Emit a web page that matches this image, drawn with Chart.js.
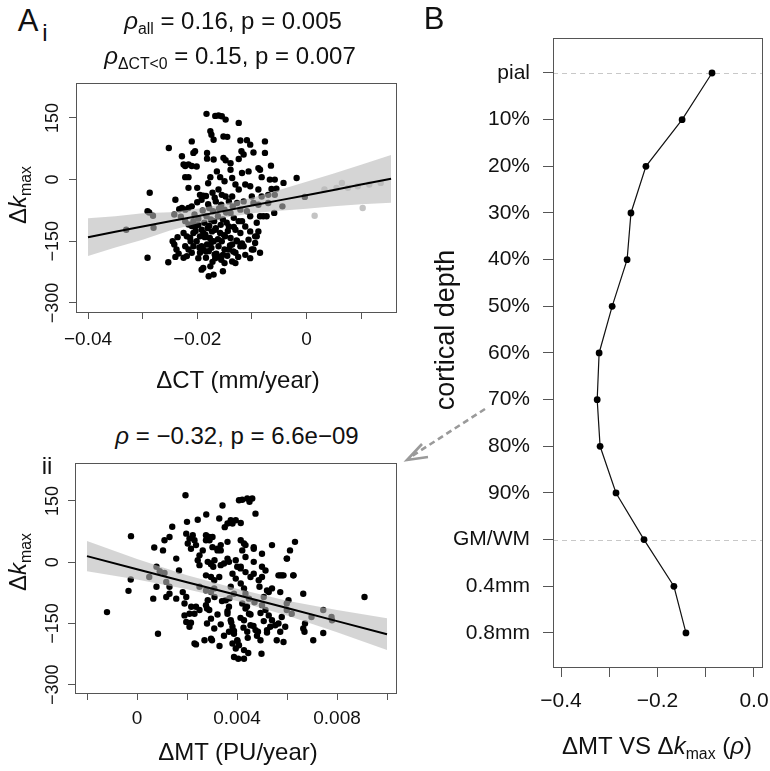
<!DOCTYPE html>
<html>
<head>
<meta charset="utf-8">
<script src="https://cdn.jsdelivr.net/npm/chart.js@4.4.0/dist/chart.umd.min.js"></script>
<style>
html, body { margin: 0; padding: 0; background: #fff; }
#fig { position: relative; width: 770px; height: 771px; overflow: hidden; font-family: "Liberation Sans", Arial, sans-serif; color: #111; }
#fig canvas { position: absolute; }
.t { position: absolute; white-space: nowrap; line-height: 1; transform: translate(-50%, -50%); }
.rot { transform: translate(-50%, -50%) rotate(-90deg); }
.sub { font-size: 0.66em; position: relative; top: 0.3em; }
svg { position: absolute; left: 0; top: 0; }
</style>
</head>
<body>
<div id="fig">
  <canvas id="ct" width="400" height="330" style="left:0;top:70px"></canvas>
  <canvas id="mt" width="400" height="321" style="left:0;top:450px"></canvas>
  <canvas id="depth" width="400" height="771" style="left:400px;top:0"></canvas>

  <div class="t" style="left:28px;top:20px;font-size:31px">A</div>
  <div class="t" style="left:45px;top:33px;font-size:24px">i</div>
  <div class="t" style="left:47px;top:466px;font-size:24px">ii</div>
  <div class="t" style="left:434px;top:18px;font-size:31px">B</div>

  <div class="t" style="left:233px;top:21px;font-size:24px"><i>ρ</i><span class="sub">all</span> = 0.16, p = 0.005</div>
  <div class="t" style="left:230px;top:56px;font-size:24px"><i>ρ</i><span class="sub">ΔCT&lt;0</span> = 0.15, p = 0.007</div>
  <div class="t" style="left:237px;top:436px;font-size:24px"><i>ρ</i> = −0.32, p = 6.6e−09</div>

  <div class="t" style="left:238px;top:380px;font-size:24px">ΔCT (mm/year)</div>
  <div class="t" style="left:238px;top:752px;font-size:24px">ΔMT (PU/year)</div>
  <div class="t rot" style="left:18px;top:195px;font-size:24px">Δ<i>k</i><span class="sub">max</span></div>
  <div class="t rot" style="left:18px;top:562px;font-size:24px">Δ<i>k</i><span class="sub">max</span></div>

  <div class="t" style="left:657px;top:746px;font-size:24px">ΔMT VS Δ<i>k</i><span class="sub">max</span> (<i>ρ</i>)</div>
  <div class="t rot" style="left:445px;top:330px;font-size:27px">cortical depth</div>

  <svg width="770" height="771">
    <line x1="485" y1="409" x2="412" y2="456" stroke="#9a9a9a" stroke-width="2.6" stroke-dasharray="6,4"/>
    <polyline points="422,444 407,460 428,457" fill="none" stroke="#9a9a9a" stroke-width="2.6"/>
  </svg>
</div>

<script>
// ---- panel A i : ΔCT vs Δkmax ----
const ctNegative = [
  [-0.0330,-122],[-0.0291,-190],[-0.0287,-32],[-0.0291,-77],[-0.0288,-80],[-0.0281,-88],[-0.0280,-117],
  [-0.0253,-201],[-0.0252,77],[-0.0242,-85],[-0.0240,-49],
  [-0.0245,-150],[-0.0242,-158],[-0.0238,-170],[-0.0234,-180],[-0.0240,-188],[-0.0236,-140],[-0.0233,-72],[-0.0230,-90],
  [-0.0228,57],[-0.0225,37],[-0.0222,33],[-0.0216,37],[-0.0210,33],[-0.0222,6],[-0.0216,6],[-0.0216,-20],[-0.0210,93],[-0.0207,65],
  [-0.0228,-69],[-0.0222,-73],[-0.0216,-69],[-0.0210,-65],[-0.0222,-101],[-0.0216,-109],[-0.0210,-113],[-0.0207,-101],
  [-0.0225,-130],[-0.0219,-138],[-0.0213,-142],[-0.0207,-130],[-0.0222,-162],[-0.0216,-170],[-0.0210,-178],[-0.0207,-162],[-0.0219,-186],[-0.0225,-190],
  [-0.0204,69],[-0.0201,32],[-0.0200,-20],[-0.0195,-37],[-0.0192,-49],[-0.0189,-39],[-0.0204,-114],[-0.0198,-110],[-0.0192,-122],[-0.0189,-130],
  [-0.0195,-138],[-0.0201,-150],[-0.0192,-162],[-0.0189,-170],[-0.0195,-178],[-0.0198,-191],[-0.0192,-219],[-0.0189,-215],
  [-0.0183,160],[-0.0176,118],[-0.0174,109],[-0.0170,97],[-0.0182,65],[-0.0182,51],[-0.0170,49],[-0.0176,6],[-0.0180,-9],[-0.0172,-32],
  [-0.0184,-40],[-0.0168,-44],[-0.0178,-69],[-0.0171,-77],[-0.0183,-89],[-0.0175,-97],[-0.0169,-101],[-0.0181,-118],[-0.0173,-126],[-0.0185,-134],
  [-0.0177,-142],[-0.0170,-150],[-0.0182,-158],[-0.0174,-166],[-0.0179,-174],[-0.0168,-182],[-0.0184,-190],[-0.0172,-200],[-0.0176,-211],[-0.0170,-231],[-0.0179,-235],
  [-0.0167,155],[-0.0161,156],[-0.0155,154],[-0.0148,146],[-0.0152,105],[-0.0145,104],[-0.0152,53],[-0.0148,47],
  [-0.0164,20],[-0.0158,6],[-0.0150,-4],[-0.0161,-24],[-0.0155,-37],[-0.0148,-41],[-0.0166,-53],[-0.0156,-61],[-0.0150,-73],[-0.0162,-89],
  [-0.0153,-97],[-0.0146,-105],[-0.0167,-122],[-0.0158,-130],[-0.0149,-138],[-0.0155,-150],[-0.0161,-162],[-0.0150,-170],[-0.0153,-183],[-0.0162,-187],
  [-0.0167,-191],[-0.0150,-203],[-0.0153,-223],
  [-0.0139,40],[-0.0124,50],[-0.0124,138],[-0.0121,95],
  [-0.0139,24],[-0.0136,4],[-0.0130,-12],[-0.0124,-24],[-0.0136,-41],[-0.0142,-53],[-0.0127,-57],[-0.0121,-73],[-0.0139,-81],[-0.0133,-93],
  [-0.0124,-101],[-0.0142,-114],[-0.0130,-122],[-0.0121,-130],[-0.0139,-142],[-0.0127,-150],[-0.0136,-158],[-0.0121,-162],[-0.0142,-170],[-0.0130,-178],
  [-0.0136,-199],[-0.0130,-203],
  [-0.0109,96],[-0.0103,85],[-0.0119,69],[-0.0115,61],[-0.0097,66],
  [-0.0118,16],[-0.0106,20],[-0.0112,-12],[-0.0103,-16],[-0.0100,-41],[-0.0115,-53],[-0.0109,-77],[-0.0103,-89],[-0.0118,-101],[-0.0112,-114],
  [-0.0103,-126],[-0.0094,-138],[-0.0106,-146],[-0.0115,-162],[-0.0100,-170],[-0.0112,-183],[-0.0103,-191],
  [-0.0076,93],[-0.0076,65],[-0.0088,28],[-0.0085,24],[-0.0082,6],[-0.0088,-24],[-0.0082,-41],[-0.0085,-89],[-0.0079,-89],[-0.0091,-105],
  [-0.0088,-126],[-0.0091,-138],[-0.0094,-154],[-0.0085,-178],[-0.0097,-170],[-0.0097,-57],[-0.0088,-61],
  [-0.0065,34],[-0.0067,0],[-0.0058,0],[-0.0055,-22],[-0.0064,-23],[-0.0070,-37],[-0.0058,-37],[-0.0059,-81],[-0.0044,-65],[-0.0042,-8],
  [-0.0073,-89],[-0.0070,-57],[-0.0018,4],[-0.0003,-42],
  [-0.0205,-85],[-0.0198,-95],[-0.0187,-105],[-0.0178,-112],[-0.0166,-118],[-0.0157,-110],[-0.0144,-125],[-0.0133,-115],[-0.0203,-125],[-0.0186,-140],
  [-0.0174,-152],[-0.0162,-145],[-0.0151,-135],[-0.0140,-160],[-0.0128,-148],[-0.0118,-155],[-0.0196,-165],[-0.0184,-175],[-0.0165,-180],[-0.0156,-195],
  [-0.0145,-185],[-0.0134,-175],[-0.0125,-188],[-0.0212,-150],[-0.0180,-60],[-0.0160,-70],[-0.0147,-80],[-0.0135,-65],[-0.0190,-75],[-0.0200,-55]
];
const ctPositive = [[0.0015,-88],[0.0065,-8],[0.0103,-69],[0.0033,-24],[0.0055,-20],[0.0076,-20],[0.0094,-16],[0.0115,-12],[0.0136,-8]];

const ctFitX  = [-0.04, -0.035, -0.03, -0.025, -0.02, -0.015, -0.01, -0.005, 0, 0.005, 0.01, 0.0155];
const ctFit   = [-140, -127, -114, -101.5, -89, -76, -63, -50.5, -38, -25, -12, 2];
const ctUpper = [-94, -89, -82, -79.5, -71, -59, -44, -25, -5, 15, 36, 60];
const ctLower = [-186, -165, -146, -123.5, -107, -93, -82, -76, -71, -65, -60, -56];

const ctTicks = [-0.04, -0.03, -0.02, -0.01, 0, 0.01];
const ctTickLabels = ['−0.04', '', '−0.02', '', '0', ''];

// ---- panel A ii : ΔMT vs Δkmax ----
const mtPoints = [
  [-0.0012,-122],[-0.00024,64],[-0.00034,-70],[-0.00025,-42],[0.00084,-175],[0.00065,-89],[0.00069,36],[0.00078,-11],[0.00049,-36],[0.00091,-22],
  [0.0011,-26],[0.00117,-48],[0.00078,-60],[0.00104,29],[0.0011,54],[0.0013,62],[0.00141,87],[0.00194,164],[0.002,99],[0.00157,9],
  [0.00168,-20],[0.0013,-60],[0.00117,-85],[0.0013,-77],[0.00157,-89],[0.00183,-73],[0.00197,-85],[0.0019,-101],[0.0019,-130],[0.00197,-146],
  [0.0021,-126],[0.00217,-109],[0.00197,70],[0.0021,58],[0.00203,46],[0.00223,66],[0.0023,54],[0.00236,42],[0.00216,33],[0.00243,104],
  [0.00277,117],[0.0025,17],[0.00263,29],[0.00243,5],[0.0025,-7],[0.0023,-199],[0.00236,-201],[0.00216,-148],[0.0021,-158],[0.00236,-109],
  [0.0023,-126],[0.0025,-117],[0.0027,-191],[0.00296,-187],[0.003,-191],[0.00276,-105],[0.00289,-117],[0.00283,-93],[0.00276,-69],[0.00296,-73],
  [0.00309,-64],[0.00276,-32],[0.00296,-36],[0.00309,-44],[0.00329,-36],[0.00283,1],[0.00296,-5],[0.00305,-11],[0.00276,54],[0.00289,62],
  [0.00302,37],[0.00322,29],[0.00335,29],[0.00329,107],[0.00351,86],[0.00362,95],[0.00375,103],[0.00382,95],[0.00395,103],[0.00415,96],
  [0.00342,139],[0.00408,152],[0.00421,153],[0.00441,156],[0.0045,148],[0.00461,156],[0.00474,119],[0.00362,9],[0.00368,1],[0.00382,-28],
  [0.00395,-40],[0.00375,-60],[0.00388,-77],[0.00355,-93],[0.00368,-109],[0.00362,-126],[0.00375,-142],[0.00382,-158],[0.00368,-170],[0.00388,-175],
  [0.00401,-191],[0.00408,-203],[0.00428,-215],[0.00395,-211],[0.00382,-199],[0.00428,-236],[0.00388,-232],[0.00415,-52],[0.00428,-64],[0.00434,-77],
  [0.00448,-89],[0.00421,-101],[0.00434,-113],[0.00448,-126],[0.00428,-142],[0.00454,-154],[0.00441,-170],[0.00415,54],[0.00428,46],[0.00421,29],
  [0.00434,13],[0.00415,-11],[0.00434,-24],[0.00454,-36],[0.00467,-28],[0.00467,33],[0.005,21],[0.0054,42],[0.00484,-170],[0.00494,-191],
  [0.00498,-224],[0.00474,-166],[0.00487,-44],[0.005,-36],[0.00514,-20],[0.0052,-69],[0.00507,-85],[0.00527,-73],[0.0054,-64],[0.005,-105],
  [0.00514,-117],[0.00527,-130],[0.0054,-142],[0.00553,-154],[0.00533,-158],[0.0052,-166],[0.00559,-191],[0.00566,-32],[0.0058,-32],[0.00573,-73],
  [0.00599,-101],[0.00606,-93],[0.00599,-117],[0.00619,-126],[0.00579,-134],[0.00566,-150],[0.00573,-170],[0.00593,-158],[0.00586,-195],[0.00599,9],
  [0.00612,29],[0.00632,50],[0.00625,-32],[0.00665,-77],[0.00672,-150],[0.00665,-162],[0.0067,-170],[0.00705,-191],[0.00698,-134],[0.00745,-117],
  [0.00745,-173],[0.00778,-134],[0.0078,-142],[0.0091,-85],
  [0.00276,66],[0.0029,54],[0.00302,62],[0.00322,33],[0.00335,42],[0.00362,50],[0.00434,42],[0.00467,37],[0.00296,-3],[0.0031,5],
  [0.00335,-7],[0.00348,-3],[0.00395,5],[0.00401,-11],[0.00414,-15],[0.00467,1],[0.005,-11],[0.00573,-32],[0.00586,-32],[0.006,9],[0.00626,-32],
  [0.0028,-113],[0.00296,-138],[0.00309,-162],[0.00322,-128],[0.00335,-152],[0.00348,-180],[0.00362,-120],[0.00377,-147],[0.00388,-168],[0.00402,-193],
  [0.00414,-136],[0.00426,-160],[0.00443,-185],[0.00454,-128],[0.00466,-156],[0.0048,-180],[0.00494,-124],[0.00507,-144],[0.0052,-172],[0.00405,-236],
  [0.00445,-222],[0.0031,-85],[0.0034,-95],[0.0037,-88],[0.0044,-108],[0.0047,-98],[0.0049,-60],[0.0025,-60],[0.0028,-150],[0.0033,-205]
];

const mtFitX  = [-0.002, 0, 0.002, 0.004, 0.006, 0.008, 0.010];
const mtFit   = [15, -17, -49, -80, -112, -144, -176];
const mtUpper = [52, 8, -32, -65, -94, -117, -137];
const mtLower = [-22, -42, -66, -95, -130, -171, -215];

const mtTicks = [-0.002, 0, 0.002, 0.004, 0.006, 0.008, 0.010];
const mtTickLabels = ['', '0', '', '0.004', '', '0.008', ''];

const kTicks = [-300, -150, 0, 150];
const kTickLabels = ['−300', '−150', '0', '150'];

// ---- panel B : rho by cortical depth ----
const depthLabels = ['pial', '10%', '20%', '30%', '40%', '50%', '60%', '70%', '80%', '90%', 'GM/WM', '0.4mm', '0.8mm'];
const depthRho = [-0.087, -0.149, -0.224, -0.255, -0.263, -0.294, -0.321, -0.325, -0.319, -0.286, -0.228, -0.166, -0.141];
const boundaryDepths = ['pial', 'GM/WM'];
const rhoTicks = [-0.4, -0.3, -0.2, -0.1, 0];
const rhoTickLabels = ['−0.4', '', '−0.2', '', '0.0'];

const FONT = '"Liberation Sans", Arial, sans-serif';
const AXIS = '#555';

const toXY = (xs, ys) => xs.map((x, i) => ({ x: x, y: ys[i] }));
const pairs = arr => arr.map(p => ({ x: p[0], y: p[1] }));

const frame = {
    id: 'frame',
    afterDraw(chart) {
        const { left, top, right, bottom } = chart.chartArea;
        const ctx = chart.ctx;
        ctx.save();
        ctx.strokeStyle = AXIS;
        ctx.lineWidth = 1;
        ctx.strokeRect(Math.round(left) + 0.5, Math.round(top) + 0.5, Math.round(right - left), Math.round(bottom - top));
        ctx.restore();
    }
};

// R-style vertical y tick labels
const verticalTicks = {
    id: 'verticalTicks',
    afterDraw(chart, args, opts) {
        if (!opts.labels) return;
        const scale = chart.scales.y;
        const ctx = chart.ctx;
        ctx.save();
        ctx.font = opts.size + 'px ' + FONT;
        ctx.fillStyle = '#111';
        ctx.textAlign = 'center';
        ctx.textBaseline = 'middle';
        scale.ticks.forEach((t, i) => {
            ctx.save();
            ctx.translate(opts.x, scale.getPixelForValue(t.value));
            ctx.rotate(-Math.PI / 2);
            ctx.fillText(opts.labels[i], 0, 0);
            ctx.restore();
        });
        ctx.restore();
    }
};

const boundaryLines = {
    id: 'boundaryLines',
    beforeDatasetsDraw(chart, args, opts) {
        if (!opts.rows) return;
        const { left, right } = chart.chartArea;
        const ctx = chart.ctx;
        ctx.save();
        ctx.strokeStyle = '#c8c8c8';
        ctx.lineWidth = 1;
        ctx.setLineDash([5, 4]);
        opts.rows.forEach(r => {
            const y = Math.round(chart.scales.y.getPixelForValue(r)) + 0.5;
            ctx.beginPath();
            ctx.moveTo(left, y);
            ctx.lineTo(right, y);
            ctx.stroke();
        });
        ctx.restore();
    }
};

function bandSets(xs, fit, upper, lower) {
    return [
        { type: 'line', data: toXY(xs, fit), borderColor: '#000', borderWidth: 2, pointRadius: 0, fill: false, order: 0 },
        { type: 'line', data: toXY(xs, upper), borderWidth: 0, borderColor: 'rgba(0,0,0,0)', pointRadius: 0,
          backgroundColor: 'rgba(185,185,185,0.6)', fill: '+1', order: 1 },
        { type: 'line', data: toXY(xs, lower), borderWidth: 0, borderColor: 'rgba(0,0,0,0)', pointRadius: 0, fill: false, order: 2 }
    ];
}

function scatterPanel(el, cfg) {
    return new Chart(el, {
        type: 'scatter',
        data: { datasets: cfg.datasets },
        options: {
            responsive: false,
            animation: false,
            devicePixelRatio: 1,
            layout: { padding: { top: 13, right: 2, left: 0, bottom: 0 } },
            plugins: {
                legend: { display: false },
                tooltip: { enabled: false },
                verticalTicks: { labels: kTickLabels, x: 53, size: 18 }
            },
            elements: { point: { radius: 3.2, borderWidth: 0 } },
            scales: {
                x: {
                    type: 'linear', min: cfg.xMin, max: cfg.xMax,
                    afterBuildTicks: s => { s.ticks = cfg.xTicks.map(v => ({ value: v })); },
                    afterFit: s => { s.height = cfg.xHeight; },
                    grid: { drawOnChartArea: false, tickLength: 7, color: AXIS },
                    border: { display: false },
                    ticks: {
                        autoSkip: false, maxRotation: 0, padding: cfg.xPad, color: '#111',
                        font: { family: FONT, size: 19 },
                        callback: (v, i) => cfg.xLabels[i]
                    }
                },
                y: {
                    type: 'linear', min: cfg.yMin, max: cfg.yMax,
                    afterBuildTicks: s => { s.ticks = kTicks.map(v => ({ value: v })); },
                    afterFit: s => { s.width = cfg.yWidth; },
                    grid: { drawOnChartArea: false, tickLength: 7, color: AXIS },
                    border: { display: false },
                    ticks: { display: false }
                }
            }
        },
        plugins: [frame, verticalTicks]
    });
}

scatterPanel(document.getElementById('ct'), {
    datasets: [
        ...bandSets(ctFitX, ctFit, ctUpper, ctLower),
        { data: pairs(ctNegative), backgroundColor: '#000', order: 3 },
        { data: pairs(ctPositive), backgroundColor: '#c4c4c4', order: 4 }
    ],
    xMin: -0.0422, xMax: 0.0164, xTicks: ctTicks, xLabels: ctTickLabels, xHeight: 88, xPad: 9,
    yMin: -322, yMax: 235, yWidth: 76
});

scatterPanel(document.getElementById('mt'), {
    datasets: [
        ...bandSets(mtFitX, mtFit, mtUpper, mtLower),
        { data: pairs(mtPoints), backgroundColor: '#000', order: 3 }
    ],
    xMin: -0.00248, xMax: 0.01036, xTicks: mtTicks, xLabels: mtTickLabels, xHeight: 78, xPad: 7,
    yMin: -320, yMax: 243, yWidth: 75
});

new Chart(document.getElementById('depth'), {
    type: 'scatter',
    data: {
        datasets: [{
            data: toXY(depthRho, depthLabels.map((d, i) => i)),
            showLine: true,
            borderColor: '#111',
            borderWidth: 1.2,
            pointRadius: 3.4,
            pointBorderWidth: 0,
            backgroundColor: '#000'
        }]
    },
    options: {
        responsive: false,
        animation: false,
        devicePixelRatio: 1,
        layout: { padding: { top: 38, right: 38, left: 0, bottom: 0 } },
        plugins: {
            legend: { display: false },
            tooltip: { enabled: false },
            boundaryLines: { rows: boundaryDepths.map(d => depthLabels.indexOf(d)) }
        },
        scales: {
            x: {
                type: 'linear', min: -0.4166, max: 0.0166,
                afterBuildTicks: s => { s.ticks = rhoTicks.map(v => ({ value: v })); },
                afterFit: s => { s.height = 104; },
                grid: { drawOnChartArea: false, tickLength: 10, color: AXIS },
                border: { display: false },
                ticks: {
                    autoSkip: false, maxRotation: 0, padding: 12, color: '#111',
                    font: { family: FONT, size: 21 },
                    callback: (v, i) => rhoTickLabels[i]
                }
            },
            y: {
                type: 'linear', reverse: true, min: -0.75, max: 12.73,
                afterBuildTicks: s => { s.ticks = depthLabels.map((d, i) => ({ value: i })); },
                afterFit: s => { s.width = 153; },
                grid: { drawOnChartArea: false, tickLength: 10, color: AXIS },
                border: { display: false },
                ticks: {
                    autoSkip: false, padding: 13, color: '#111',
                    font: { family: FONT, size: 21 },
                    callback: (v, i) => depthLabels[i]
                }
            }
        }
    },
    plugins: [frame, boundaryLines]
});
</script>
</body>
</html>
